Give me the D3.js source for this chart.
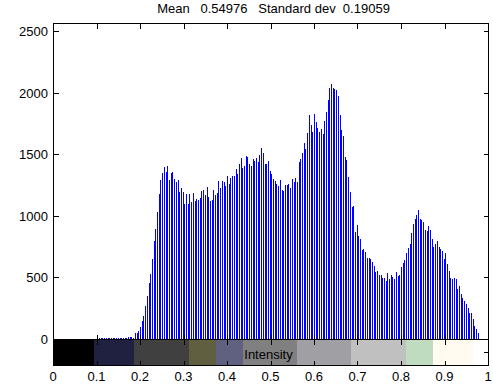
<!DOCTYPE html>
<html>
<head>
<meta charset="utf-8">
<script src="https://cdn.jsdelivr.net/npm/d3@7/dist/d3.min.js"></script>
<style>
  body { margin: 0; background: #fff; }
  text { font-family: Arial, "Liberation Sans", sans-serif; font-size: 13px; fill: #000; }
</style>
</head>
<body>
<svg id="chart"></svg>
<script>
// histogram counts, 256 bins over [0, 1]
var counts = [
  0,0,0,0,0,0,0,0,0,0, 0,0,0,0,0,0,0,0,0,0,
  2,2,3,3,4,4,5,5,6,6, 7,8,9,12,6,7,8,10,8,9, 10,9,12,
  7,18,18,18,12,50,50,66,99,147, 190,271,352,455,531,650,798,893,1028,1179,
  1292,1349,1395,1357,1406,1287,1349,1357,1298,1276, 1292,1195,1228,1195,1098,1179,1098,1179,1114,1187,
  1122,1138,1130,
  1141,1203,1211,1171,1236,1155,1122,1130,1211,1171, 1187,1284,1228,1284,1276,1244,1325,1260,1309,1325,
  1325,1382,1341,1422,1471,1390,1406,1487,1479,1422, 1406,1463,1446,1471,1438,1495,1552,1511,1422,1422,
  1446,1365,1341,
  1300,1284,1260,1244,1292,1211,1203,1252,1252,1260, 1228,1300,1276,1309,1276,1438,1463,1511,1592,1544,
  1673,1819,1738,1681,1827,1762,1714,1681,1706,1665, 1771,1843,1941,2038,2071,2038,
  2030,2022,1973,1819,1698,1649,1479,
  1455,1317,1195,1074,1082,871,927,838,814,725, 733,709,660,660,652,628,596,547,555,523,
  523,498,498,474,539,490,523,506,490,547, 515,523,587,620,644,701,742,774,863,936,
  976,1009,1049,
  976,968,952,887,879,920,887,814,749,774, 798,749,733,717,652,701,612,555,498,490,
  498,490,409,433,369,336,312,288,255,215, 207,166,109,85,45,
  0,0,0,0,0,0
];

var xTicks = [0, 0.1, 0.2, 0.3, 0.4, 0.5, 0.6, 0.7, 0.8, 0.9, 1];
var xTickLabels = ["0", "0.1", "0.2", "0.3", "0.4", "0.5", "0.6", "0.7", "0.8", "0.9", "1"];
var yTicks = [0, 500, 1000, 1500, 2000, 2500];

// colormap strip under the histogram
var mapStarts = [0, 0.094, 0.187, 0.313, 0.375, 0.437, 0.562, 0.685, 0.812, 0.874, 0.965];
var mapEnds   = [0.094, 0.187, 0.313, 0.375, 0.437, 0.562, 0.685, 0.812, 0.874, 0.965, 1];
var mapColors = ["#000000", "#202040", "#404040", "#606040", "#606080", "#808080",
                 "#a0a0a4", "#c0c0c0", "#c0dcc0", "#fffbf0", "#ffffff"];

var meanVal = "0.54976";
var stdVal = "0.19059";

var w = 493;
var h = 391;
var axLeft = 53, axRight = 488, axTop = 23, axZero = 339, axBottom = 365;
var tickLen = 5;

var svg = d3.select("#chart")
  .attr("width", w)
  .attr("height", h);

var x = d3.scaleLinear().domain([0, 1]).range([axLeft, axRight]);
var y = d3.scaleLinear().domain([0, 2565]).range([axZero, axTop]);

// colour strip
svg.append("g")
  .selectAll("rect")
  .data(mapColors)
  .enter()
  .append("rect")
  .attr("x", function(d, i) { return x(mapStarts[i]); })
  .attr("width", function(d, i) { return x(mapEnds[i]) - x(mapStarts[i]) + 0.5; })
  .attr("y", axZero)
  .attr("height", axBottom - axZero)
  .attr("fill", function(d) { return d; })
  .attr("shape-rendering", "crispEdges");

// stems
var bins = counts.map(function(c, i) { return {bin: i / 255, n: c}; });

svg.append("g")
  .selectAll("line")
  .data(bins.filter(function(d) { return d.n > 0; }))
  .enter()
  .append("line")
  .attr("x1", function(d) { return Math.round(x(d.bin)) + 0.5; })
  .attr("x2", function(d) { return Math.round(x(d.bin)) + 0.5; })
  .attr("y1", y(0))
  .attr("y2", function(d) { return y(d.n); })
  .attr("stroke", "#0000ff")
  .attr("stroke-width", 1)
  .attr("shape-rendering", "crispEdges");

// axes frames
var frame = svg.append("g")
  .attr("fill", "none")
  .attr("stroke", "#000")
  .attr("stroke-width", 1)
  .attr("shape-rendering", "crispEdges");

frame.append("rect")
  .attr("x", axLeft + 0.5).attr("y", axTop + 0.5)
  .attr("width", axRight - axLeft).attr("height", axZero - axTop);
frame.append("rect")
  .attr("x", axLeft + 0.5).attr("y", axZero + 0.5)
  .attr("width", axRight - axLeft).attr("height", axBottom - axZero);

// x ticks on both boxes, pointing in
[axTop, axZero, axZero, axBottom].forEach(function(y0, k) {
  var dir = (k % 2 == 0) ? 1 : -1;
  frame.append("g")
    .selectAll("line")
    .data(xTicks)
    .enter()
    .append("line")
    .attr("x1", function(d) { return Math.round(x(d)) + 0.5; })
    .attr("x2", function(d) { return Math.round(x(d)) + 0.5; })
    .attr("y1", y0 + 0.5)
    .attr("y2", y0 + 0.5 + dir * tickLen);
});

// y ticks left and right
[axLeft, axRight].forEach(function(x0, k) {
  var dir = k == 0 ? 1 : -1;
  frame.append("g")
    .selectAll("line")
    .data(yTicks)
    .enter()
    .append("line")
    .attr("x1", x0 + 0.5)
    .attr("x2", x0 + 0.5 + dir * tickLen)
    .attr("y1", function(d) { return Math.round(y(d)) + 0.5; })
    .attr("y2", function(d) { return Math.round(y(d)) + 0.5; });
  frame.append("line")
    .attr("x1", x0 + 0.5)
    .attr("x2", x0 + 0.5 + dir * tickLen)
    .attr("y1", Math.round((axZero + axBottom) / 2) + 0.5)
    .attr("y2", Math.round((axZero + axBottom) / 2) + 0.5);
});

// labels
svg.append("g")
  .selectAll("text")
  .data(yTicks)
  .enter()
  .append("text")
  .attr("x", axLeft - 5)
  .attr("y", function(d) { return y(d) + 5; })
  .attr("text-anchor", "end")
  .text(function(d) { return d; });

svg.append("g")
  .selectAll("text")
  .data(xTicks)
  .enter()
  .append("text")
  .attr("x", function(d) { return x(d); })
  .attr("y", 381)
  .attr("text-anchor", "middle")
  .text(function(d, i) { return xTickLabels[i]; });

svg.append("text")
  .attr("x", (axLeft + axRight) / 2 - 2)
  .attr("y", 359)
  .attr("text-anchor", "middle")
  .text("Intensity");

svg.append("text")
  .attr("x", (axLeft + axRight) / 2 + 3)
  .attr("y", 13)
  .attr("text-anchor", "middle")
  .style("white-space", "pre")
  .text("Mean   " + meanVal + "   Standard dev  " + stdVal);
</script>
</body>
</html>
